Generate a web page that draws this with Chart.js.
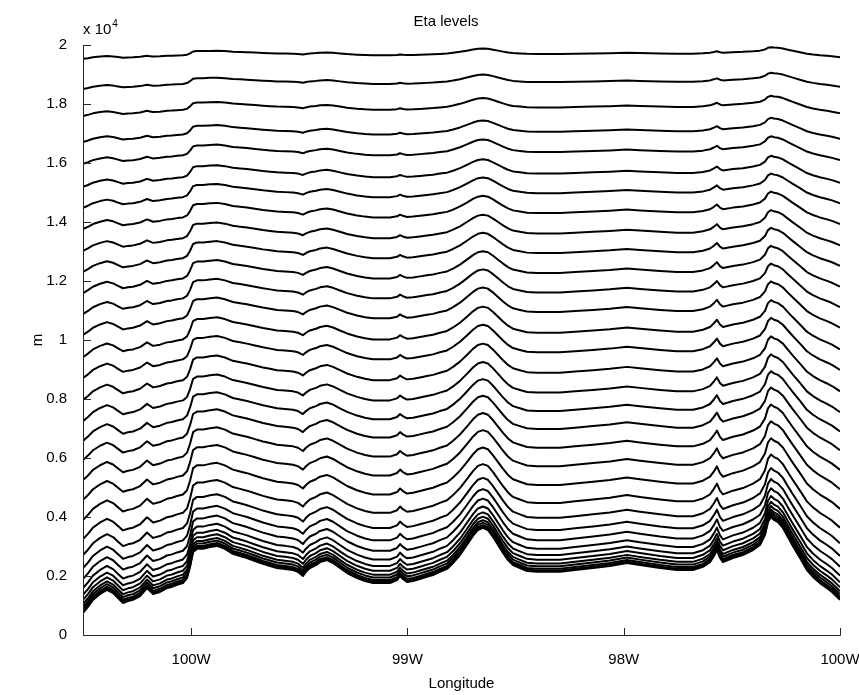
<!DOCTYPE html>
<html>
<head>
<meta charset="utf-8">
<title>Eta levels</title>
<script src="https://cdn.jsdelivr.net/npm/chart.js@4.4.1/dist/chart.umd.min.js"></script>
<style>
  html, body { margin: 0; padding: 0; background: #fff; }
  #wrap { width: 859px; height: 695px; position: relative; }
</style>
</head>
<body>
<div id="wrap"><canvas id="eta-chart" width="859" height="695"></canvas></div>
<script>
const lon = [-100.500, -100.477, -100.454, -100.421, -100.389, -100.361, -100.338, -100.315, -100.292, -100.269,
  -100.236, -100.204, -100.190, -100.176, -100.144, -100.112, -100.089, -100.065, -100.038, -100.019,
  -100.005, -99.991, -99.973, -99.945, -99.913, -99.880, -99.844, -99.807, -99.774, -99.742,
  -99.705, -99.668, -99.635, -99.603, -99.566, -99.529, -99.506, -99.483, -99.469, -99.451,
  -99.423, -99.404, -99.372, -99.344, -99.312, -99.279, -99.233, -99.196, -99.159, -99.127,
  -99.081, -99.048, -99.034, -99.021, -99.002, -98.974, -98.942, -98.910, -98.882, -98.850,
  -98.817, -98.789, -98.757, -98.725, -98.697, -98.674, -98.651, -98.628, -98.604, -98.581,
  -98.558, -98.535, -98.512, -98.480, -98.447, -98.401, -98.355, -98.295, -98.225, -98.142,
  -98.064, -97.985, -97.925, -97.832, -97.754, -97.680, -97.634, -97.601, -97.583, -97.569,
  -97.555, -97.541, -97.495, -97.449, -97.402, -97.370, -97.347, -97.333, -97.319, -97.305,
  -97.287, -97.264, -97.241, -97.218, -97.185, -97.153, -97.125, -97.093, -97.060, -97.037,
  -97.000];

// lowest eta level = terrain height (m)
const terrain = [750, 950, 1190, 1390, 1530, 1420, 1250, 1085, 1150, 1190,
  1320, 1590, 1490, 1390, 1460, 1590, 1630, 1700, 1760, 1930,
  2310, 2810, 2920, 2920, 2980, 3020, 2920, 2750, 2680, 2610,
  2510, 2410, 2340, 2270, 2240, 2200, 2140, 2000, 2140, 2270,
  2370, 2470, 2540, 2440, 2270, 2100, 1930, 1830, 1760, 1760,
  1760, 1860, 2000, 1900, 1800, 1830, 1900, 1970, 2030, 2140,
  2240, 2440, 2710, 3050, 3360, 3560, 3630, 3560, 3320, 3050,
  2780, 2540, 2370, 2270, 2170, 2140, 2140, 2140, 2200, 2270,
  2340, 2440, 2370, 2270, 2200, 2200, 2310, 2470, 2680, 2880,
  2610, 2470, 2610, 2710, 2880, 3050, 3390, 3830, 4000, 3900,
  3830, 3630, 3320, 3020, 2610, 2200, 1970, 1760, 1590, 1460,
  1190];

// height (m) of every other level at the left edge (100.5W), top to bottom
const levelHeights = [19530, 18510, 17590, 16710, 15970, 15190, 14480, 13760, 13020, 12310,
  11590, 10880, 10170, 9420, 8710, 7970, 7250, 6580, 5930, 5250,
  4580, 3900, 3250, 2710, 2270, 1900, 1590, 1360, 1190, 1050,
  950, 860, 800];

// height where the levels become flat (model top)
const modelTop = 22120;

const xTickValues = [-100, -99, -98, -97];
const xTickLabels = ['100W', '99W', '98W', '100W'];
const yTickStep = 2000;

const FONT = '"Liberation Sans", Arial, Helvetica, sans-serif';

// terrain-following levels: each level keeps its fraction of the column between surface and top
function levelLine(h) {
  const s = (h - terrain[0]) / (modelTop - terrain[0]);
  return lon.map((x, i) => ({ x: x, y: terrain[i] + s * (modelTop - terrain[i]) }));
}

const lineStyle = {
  borderColor: '#000',
  borderWidth: 2,
  pointRadius: 0,
  tension: 0,
  borderJoinStyle: 'round'
};

const datasets = levelHeights.map(h => Object.assign({ data: levelLine(h) }, lineStyle));
datasets.push(Object.assign({ data: lon.map((x, i) => ({ x: x, y: terrain[i] })) }, lineStyle));

// axis lines, inward ticks, and the texts MATLAB puts around the axes
const axisDecor = {
  id: 'axisDecor',
  afterDraw(chart) {
    const { ctx, chartArea: a } = chart;
    const xs = chart.scales.x, ys = chart.scales.y;
    ctx.save();
    ctx.strokeStyle = '#262626';
    ctx.lineWidth = 1;
    ctx.beginPath();
    ctx.moveTo(a.left + 0.5, a.top);
    ctx.lineTo(a.left + 0.5, a.bottom + 0.5);
    ctx.lineTo(a.right + 0.5, a.bottom + 0.5);
    xTickValues.forEach(v => {
      const px = Math.round(xs.getPixelForValue(v)) + 0.5;
      ctx.moveTo(px, a.bottom + 0.5);
      ctx.lineTo(px, a.bottom - 7);
    });
    ys.ticks.forEach(t => {
      const py = Math.round(ys.getPixelForValue(t.value)) + 0.5;
      ctx.moveTo(a.left + 0.5, py);
      ctx.lineTo(a.left + 8, py);
    });
    ctx.stroke();

    ctx.fillStyle = '#000';
    ctx.textBaseline = 'alphabetic';
    ctx.textAlign = 'center';
    ctx.font = '15px ' + FONT;
    ctx.fillText('Eta levels', 446, 26);
    ctx.fillText('Longitude', (a.left + a.right) / 2, 688);

    ctx.save();
    ctx.translate(42, (a.top + a.bottom) / 2);
    ctx.rotate(-Math.PI / 2);
    ctx.fillText('m', 0, 0);
    ctx.restore();

    ctx.textAlign = 'left';
    ctx.font = '15px ' + FONT;
    ctx.fillText('x 10', 83, 34);
    const w = ctx.measureText('x 10').width;
    ctx.font = '10px ' + FONT;
    ctx.fillText('4', 83 + w + 1, 27);
    ctx.restore();
  }
};

new Chart(document.getElementById('eta-chart'), {
  type: 'line',
  data: { datasets: datasets },
  options: {
    responsive: false,
    animation: false,
    devicePixelRatio: 1,
    layout: { padding: { top: 45, right: 19, left: 0, bottom: 0 } },
    plugins: {
      legend: { display: false },
      tooltip: { enabled: false },
      title: { display: false }
    },
    scales: {
      x: {
        type: 'linear',
        min: -100.5,
        max: -97,
        grid: { display: false, drawTicks: false },
        border: { display: false },
        afterBuildTicks: scale => {
          scale.ticks = xTickValues.map(v => ({ value: v }));
        },
        afterFit: scale => {
          scale.height = 60;
          scale.paddingLeft = 0;
          scale.paddingRight = 0;
        },
        ticks: {
          autoSkip: false,
          maxRotation: 0,
          padding: 16,
          color: '#000',
          font: { family: FONT, size: 15 },
          callback: (v, i) => xTickLabels[i]
        }
      },
      y: {
        min: 0,
        max: 20000,
        grid: { display: false, drawTicks: false },
        border: { display: false },
        afterFit: scale => {
          scale.width = 83;
          scale.paddingTop = 0;
          scale.paddingBottom = 0;
        },
        ticks: {
          stepSize: yTickStep,
          padding: 16,
          color: '#000',
          font: { family: FONT, size: 15 },
          callback: v => String(Math.round(v / 1000) / 10)
        }
      }
    }
  },
  plugins: [axisDecor]
});
</script>
</body>
</html>
